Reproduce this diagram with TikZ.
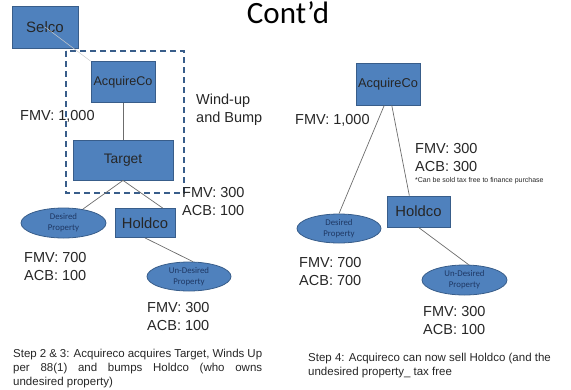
\documentclass[tikz,border=0pt]{standalone}
\usepackage{fontspec}
\setmainfont{Liberation Sans}
\newfontfamily\calib{Carlito}
\usetikzlibrary{shapes.geometric,positioning}
\definecolor{boxblue}{HTML}{4F81BD}
\definecolor{boxedge}{HTML}{385D8A}
\definecolor{proptext}{HTML}{1F3864}

\begin{document}
\begin{tikzpicture}[x=1pt, y=-1pt,
  co/.style={draw=boxedge, fill=boxblue, line width=0.8pt, inner sep=0pt, text=black!85},
  prop/.style={ellipse, draw=boxedge, fill=boxblue, line width=0.8pt, minimum width=85pt, minimum height=30pt, inner sep=0pt, align=center, text=proptext, font=\calib\fontsize{8.8}{11}\selectfont},
  val/.style={anchor=north west, align=left, inner sep=0pt, font=\fontsize{14.5}{18}\selectfont, text=black!85},
  steptext/.style={anchor=north west, inner sep=0pt, font=\fontsize{11.5}{14}\selectfont, text=black!85},
  tie/.style={draw=gray!85!black, line width=0.7pt}]
\useasboundingbox (0,0) rectangle (571,389);

\node[font=\calib\fontsize{31}{31}\selectfont, anchor=base] (title) at (288,23) {Cont’d};

% left: after the wind-up
\node[co, minimum width=66pt, minimum height=42pt, font=\fontsize{15}{15}\selectfont] (sel) at (45,27) {Selco};
\draw[boxedge, line width=1.6pt, dash pattern=on 6pt off 4pt] (66,51) rectangle (184,193);
\node[co, minimum width=64pt, minimum height=41pt, font=\fontsize{12.6}{12.6}\selectfont] (acqL) at (123,82) {AcquireCo};
\node[co, minimum width=100pt, minimum height=40pt, font=\fontsize{13.8}{13.8}\selectfont] (tgt) at (123,160) {Target};
\node[co, minimum width=60pt, minimum height=29pt, font=\fontsize{14.8}{14.8}\selectfont] (holdL) at (145,223) {Holdco};
\node[prop] (desL) at (63.5,223) {Desired\\Property};
\node[prop, minimum width=84pt, minimum height=29pt] (undL) at (189,276.5) {Un-Desired\\Property};

\draw[gray!40, line width=0.5pt] (acqL.north west) -- (sel.center);
\draw[tie] (acqL) -- (tgt);
\draw[tie] (tgt.south) -- (desL);
\draw[tie] (tgt.south) -- (holdL.40);
\draw[tie] (holdL.south) -- (undL.75);

\node[val] (fmvAcqL) at (20,110) {FMV: 1,000};
\node[val] (wind) at (196,94) {Wind-up\\and Bump};
\node[val] (fmvHoldL) at (182,187) {FMV: 300\\ACB: 100};
\node[val] (fmvDesL) at (24,252) {FMV: 700\\ACB: 100};
\node[val] (fmvUndL) at (147,302) {FMV: 300\\ACB: 100};
\node[steptext, text width=249pt, align=justify] (stepL) at (13,348.5)
  {Step 2 \& 3: Acquireco acquires Target, Winds Up\linebreak per 88(1) and bumps Holdco (who owns\linebreak undesired property)};

% right: after the sale of holdco
\node[co, minimum width=64pt, minimum height=42pt, font=\fontsize{12.8}{12.8}\selectfont] (acqR) at (388,84) {AcquireCo};
\node[co, minimum width=63pt, minimum height=31pt, font=\fontsize{14.8}{14.8}\selectfont] (holdR) at (418.5,211.5) {Holdco};
\node[prop, minimum width=84pt, minimum height=29pt] (desR) at (339,228.5) {Desired\\Property};
\node[prop] (undR) at (464.5,280) {Un-Desired\\Property};

\draw[tie] (acqR.-100) -- (desR.north);
\draw[tie] (acqR.-80) -- (holdR.120);
\draw[tie] (holdR.south) -- (undR.75);

\node[val] (fmvAcqR) at (295,114) {FMV: 1,000};
\node[val] (fmvHoldR) at (415,143) {FMV: 300\\ACB: 300};
\node[anchor=north west, inner sep=0pt, font=\fontsize{7}{8}\selectfont, text=black!85] (note) at (415,177) {*Can be sold tax free to finance purchase};
\node[val] (fmvDesR) at (299,257) {FMV: 700\\ACB: 700};
\node[val] (fmvUndR) at (423,306) {FMV: 300\\ACB: 100};
\node[steptext, align=left] (stepR) at (308,352.5)
  {Step 4: Acquireco can now sell Holdco (and the\\undesired property\_ tax free};
\end{tikzpicture}
\end{document}
